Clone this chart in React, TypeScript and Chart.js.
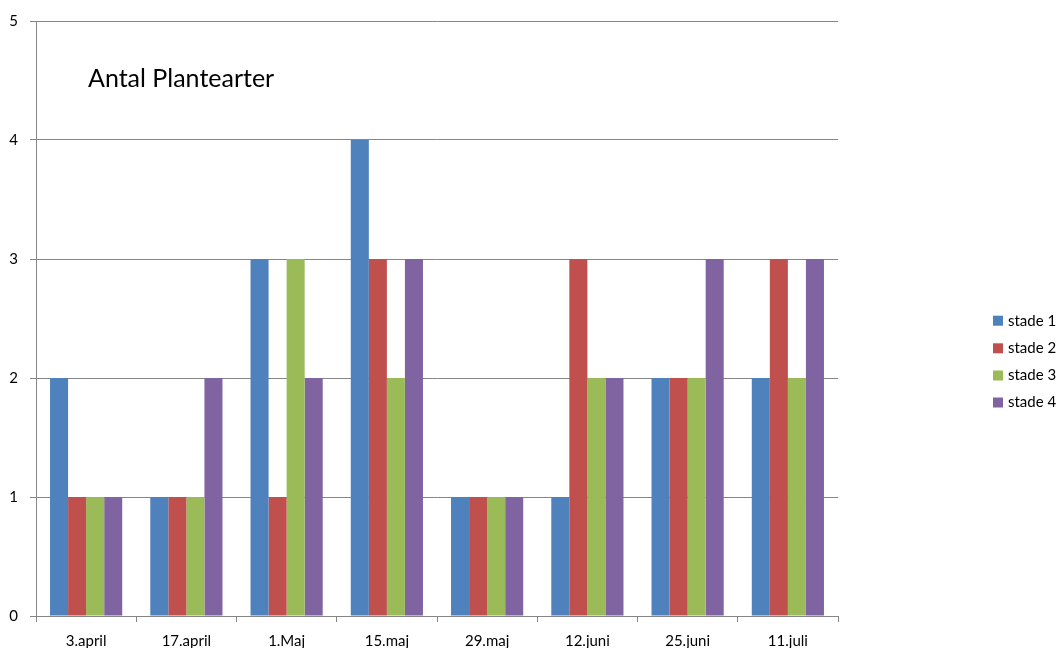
import React, { useEffect, useRef } from "react";
import { Chart, registerables } from "chart.js";

Chart.register(...registerables);

const categories = ["3.april", "17.april", "1.Maj", "15.maj", "29.maj", "12.juni", "25.juni", "11.juli"];
const seriesNames = ["stade 1", "stade 2", "stade 3", "stade 4"];
const stade1 = [2, 1, 3, 4, 1, 1, 2, 2];
const stade2 = [1, 1, 1, 3, 1, 3, 2, 3];
const stade3 = [1, 1, 3, 2, 1, 2, 2, 2];
const stade4 = [1, 2, 2, 3, 1, 2, 3, 3];
const colors = ["#4F81BD", "#C0504D", "#9BBB59", "#8064A2"];
const titleText = "Antal Plantearter";
const FONT = "Lato, 'Open Sans', sans-serif";

export default function App() {
  const ref = useRef<HTMLCanvasElement | null>(null);
  useEffect(() => {
    if (!ref.current) return;
    const series = [stade1, stade2, stade3, stade4];
    const overlay = {
      id: "overlay",
      afterDraw(chart: any) {
        const ctx = chart.ctx;
        ctx.save();
        ctx.fillStyle = "#000";
        ctx.font = `25px ${FONT}`;
        ctx.textBaseline = "alphabetic";
        ctx.textAlign = "left";
        ctx.fillText(titleText, 88, 87);
        ctx.font = `15px ${FONT}`;
        ctx.textBaseline = "middle";
        const ys = [320.7, 348.3, 375.5, 402.5];
        seriesNames.forEach((n, i) => {
          ctx.fillStyle = colors[i];
          ctx.fillRect(993, ys[i] - 5, 10, 10);
          ctx.fillStyle = "#000";
          ctx.fillText(n, 1008, ys[i]);
        });
        ctx.restore();
      },
    };
    const chart = new Chart(ref.current, {
      type: "bar",
      data: {
        labels: categories,
        datasets: series.map((d, i) => ({
          label: seriesNames[i],
          data: d,
          backgroundColor: colors[i],
          borderWidth: 0,
          categoryPercentage: 0.72,
          barPercentage: 1.0,
        })),
      },
      options: {
        responsive: false,
        animation: false,
        layout: { padding: { top: 19, right: 219, left: 0, bottom: 0 } },
        plugins: { legend: { display: false }, title: { display: false }, tooltip: { enabled: false } },
        scales: {
          x: {
            offset: true,
            grid: { offset: true, drawOnChartArea: false, drawTicks: true, tickLength: 6, color: "#868686" },
            border: { color: "#868686", width: 1 },
            ticks: { color: "#000", font: { family: FONT, size: 15 }, padding: 10, maxRotation: 0 },
            afterFit(scale: any) {
              scale.height = 32;
            },
          },
          y: {
            min: 0,
            max: 5,
            ticks: { stepSize: 1, color: "#000", font: { family: FONT, size: 15 }, padding: 12 },
            grid: { color: "#868686", tickLength: 6, drawTicks: true },
            border: { color: "#868686", width: 1 },
            afterFit(scale: any) {
              scale.width = 36;
            },
          },
        },
      },
      plugins: [overlay],
    });
    return () => chart.destroy();
  }, []);
  return (
    <div style={{ position: "absolute", left: 0, top: 0, width: 1057, height: 648, background: "#fff" }}>
      <canvas ref={ref} width={1057} height={648} style={{ width: 1057, height: 648, display: "block" }} />
    </div>
  );
}
